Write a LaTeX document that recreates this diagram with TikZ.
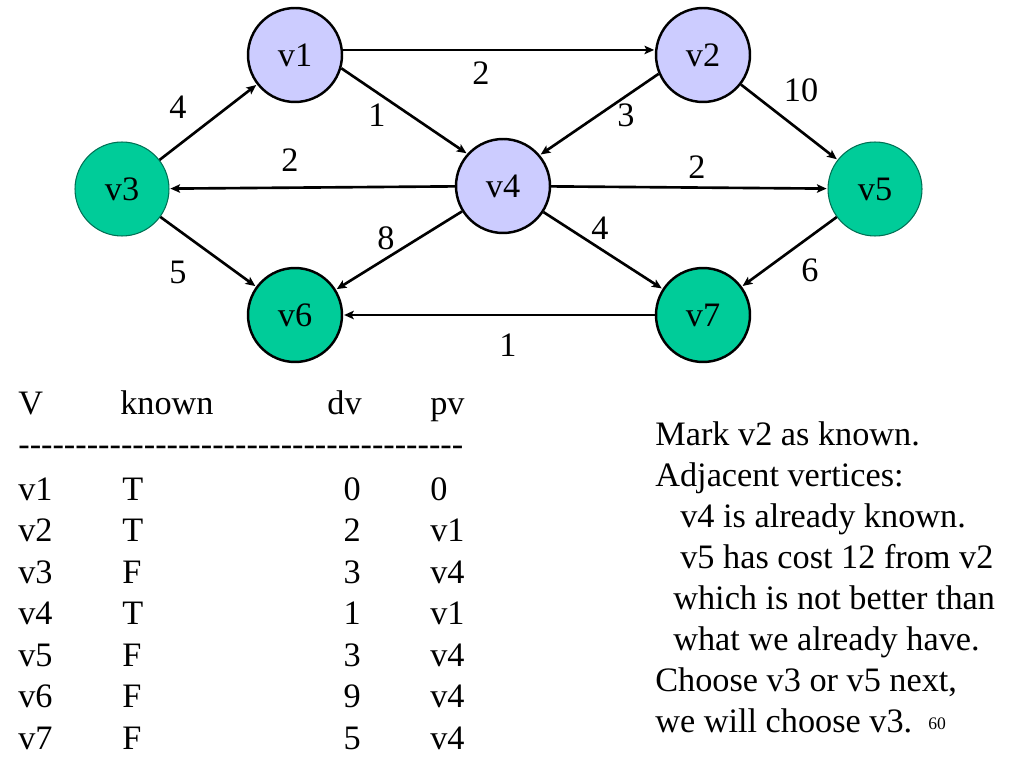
\documentclass[tikz,border=0pt]{standalone}
\usepackage{fontspec}
\setmainfont{Liberation Serif}[Ligatures=TeXOff]
\usepackage{tikz}
\usetikzlibrary{arrows.meta, positioning}

\definecolor{knownv}{HTML}{CCCCFF}
\definecolor{openv}{HTML}{00CC99}

\begin{document}
\begin{tikzpicture}[
    x=0.02cm, y=-0.02cm,
    every node/.style={font=\fontsize{19.5pt}{24pt}\selectfont},
    vertex/.style={circle, draw, line width=1.4pt, minimum size=1.88cm, inner sep=0pt},
    arc/.style={-{Stealth[length=5.5pt, width=4.8pt, inset=1.2pt]}, line width=1.5pt, shorten >=0.5pt},
    wt/.style={inner sep=0pt},
    cell/.style={anchor=base west, inner sep=0pt},
    num/.style={anchor=base east, inner sep=0pt}
]
    \useasboundingbox (0,0) rectangle (1024,773);

    % graph
    \node[vertex, fill=knownv] (v1) at (295, 55) {v1};
    \node[vertex, fill=knownv] (v2) at (703, 55) {v2};
    \node[vertex, fill=openv, draw=openv!55!black, line width=0.6pt] (v3) at (122, 189) {v3};
    \node[vertex, fill=knownv] (v4) at (503, 186) {v4};
    \node[vertex, fill=openv, draw=openv!55!black, line width=0.6pt] (v5) at (875, 189) {v5};
    \node[vertex, fill=openv] (v6) at (295, 315) {v6};
    \node[vertex, fill=openv] (v7) at (703, 315) {v7};

    \draw[arc] (v1.6) -- (v2.174);
    \draw[arc] (v1.-16) -- (v4.138);
    \draw[arc] (v2.203) -- (v4.40);
    \draw[arc] (v2) -- (v5);
    \draw[arc] (v3) -- (v1);
    \draw[arc] (v4) -- (v3);
    \draw[arc] (v4) -- (v5);
    \draw[arc] (v3) -- (v6);
    \draw[arc] (v4) -- (v6);
    \draw[arc] (v4) -- (v7);
    \draw[arc] (v5) -- (v7);
    \draw[arc] (v7) -- (v6);

    % weights
    \node[wt] (w12) at (481, 73) {2};
    \node[wt] (w14) at (377, 115) {1};
    \node[wt] (w24) at (626, 115) {3};
    \node[wt] (w25) at (801, 90) {10};
    \node[wt] (w31) at (178, 107) {4};
    \node[wt] (w43) at (290, 160) {2};
    \node[wt] (w45) at (697, 167) {2};
    \node[wt] (w36) at (178, 272) {5};
    \node[wt] (w46) at (386, 238) {8};
    \node[wt] (w47) at (600, 228) {4};
    \node[wt] (w57) at (810, 270) {6};
    \node[wt] (w76) at (508, 345) {1};

    % table
    \node[cell] (hV) at (18, 415) {V};
    \node[cell] (hK) at (120, 415) {known};
    \node[num] (hD) at (362, 415) {dv};
    \node[cell] (hP) at (430, 415) {pv};
    \node[cell] (rule) at (18, 455) {---------------------------------------};
    \foreach \v/\k/\d/\p [count=\i] in {v1/T/0/0, v2/T/2/v1, v3/F/3/v4, v4/T/1/v1,
                                         v5/F/3/v4, v6/F/9/v4, v7/F/5/v4} {
        \node[cell] (V\i) at (18, 500+41.5*\i-41.5) {\v};
        \node[cell] (K\i) at (122, 500+41.5*\i-41.5) {\k};
        \node[num] (D\i) at (361, 500+41.5*\i-41.5) {\d};
        \node[cell] (P\i) at (430, 500+41.5*\i-41.5) {\p};
    }

    % notes
    \node[cell] (n1) at (655, 445) {Mark v2 as known.};
    \node[cell] (n2) at (655, 486) {Adjacent vertices:};
    \node[cell] (n3) at (680, 527) {v4 is already known.};
    \node[cell] (n4) at (680, 568) {v5 has cost 12 from v2};
    \node[cell] (n5) at (673, 609) {which is not better than};
    \node[cell] (n6) at (673, 650) {what we already have.};
    \node[cell] (n7) at (655, 691) {Choose v3 or v5 next,};
    \node[cell] (n8) at (655, 732) {we will choose v3.};
    \node[cell, font=\fontsize{10pt}{12pt}\selectfont] (page) at (928, 729) {60};
\end{tikzpicture}
\end{document}
